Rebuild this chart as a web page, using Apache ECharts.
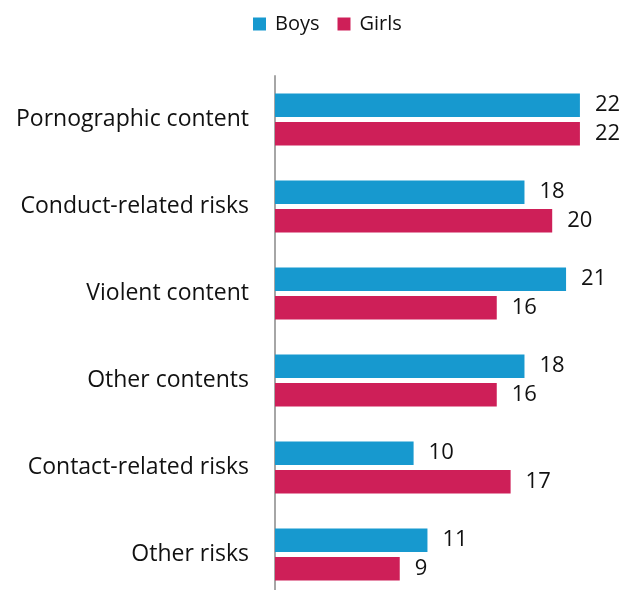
<!DOCTYPE html>
<html><head><meta charset="utf-8">
<script src="https://cdn.jsdelivr.net/npm/echarts@6/dist/echarts.min.js"></script>
<style>html,body{margin:0;padding:0;background:#fff;overflow:hidden}#c{width:635px;height:610px}</style>
</head><body><div id="c"></div>
<script>
var categories = ["Pornographic content","Conduct-related risks","Violent content","Other contents","Contact-related risks","Other risks"];
var boys = [22,18,21,18,10,11];
var girls = [22,20,16,16,17,9];
var chart = echarts.init(document.getElementById('c'));
var font = 'Open Sans';
chart.setOption({
  animation:false,
  legend:{top:14,left:253,padding:0,itemWidth:13,itemHeight:13,itemGap:18,icon:'rect',
    textStyle:{fontFamily:font,fontSize:20,color:'#111',padding:[0,0,0,4]},data:['Boys','Girls']},
  grid:{left:275,right:13.5,top:76,height:522,containLabel:false},
  xAxis:{type:'value',min:0,max:25,show:false},
  yAxis:{type:'category',data:categories,inverse:true,
    axisLine:{show:true,lineStyle:{color:'#A6A6A6',width:2}},
    axisTick:{show:false},
    axisLabel:{fontFamily:font,fontSize:23,color:'#111',margin:26}},
  series:[
    {name:'Boys',type:'bar',data:boys,barGap:'21%',barCategoryGap:'40%',
     itemStyle:{color:'#1799CF'},
     label:{show:true,position:'right',distance:15,fontFamily:font,fontSize:22,color:'#111'}},
    {name:'Girls',type:'bar',data:girls,
     itemStyle:{color:'#CE1F58'},
     label:{show:true,position:'right',distance:15,fontFamily:font,fontSize:22,color:'#111'}}
  ]
});
</script></body></html>
